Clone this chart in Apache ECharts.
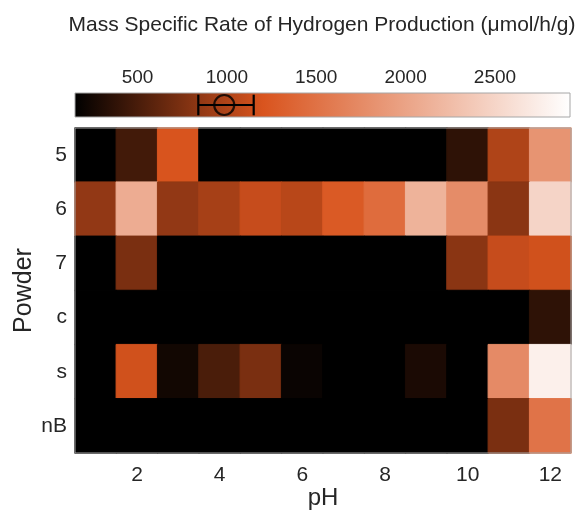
<!DOCTYPE html>
<html>
<head>
<meta charset="utf-8">
<script src="https://cdn.jsdelivr.net/npm/echarts@6/dist/echarts.min.js"></script>
<style>
  html, body { margin: 0; padding: 0; background: #ffffff; }
  #chart { width: 582px; height: 513px; }
</style>
</head>
<body>
<div id="chart"></div>
<script>
// pH values along the x axis and powder samples down the y axis
const phValues = [1, 2, 3, 4, 5, 6, 7, 8, 9, 10, 11, 12];
const powders = ['5', '6', '7', 'c', 's', 'nB'];

// Mass specific H2 rate (µmol/h/g), one row per powder, one value per pH
const rate5  = [0, 470, 1200, 0, 0, 0, 0, 0, 0, 370, 1000, 1850];
const rate6  = [860, 2090, 860, 955, 1110, 1040, 1260, 1440, 2150, 1765, 820, 2490];
const rate7  = [0, 740, 0, 0, 0, 0, 0, 0, 0, 820, 1110, 1160];
const rateC  = [0, 0, 0, 0, 0, 0, 0, 0, 0, 0, 0, 370];
const rateS  = [0, 1160, 240, 510, 740, 200, 0, 0, 280, 0, 1750, 2770];
const rateNB = [0, 0, 0, 0, 0, 0, 0, 0, 0, 0, 740, 1520];
const rateRows = [rate5, rate6, rate7, rateC, rateS, rateNB];

// Colour scale limits and tick labels
const colorMin = 150;
const colorMax = 2920;
const colorTicks = [500, 1000, 1500, 2000, 2500];

// Reference point marked on the colour bar: mean with its spread
const refMean = 985;
const refLow = 840;
const refHigh = 1150;

// Black -> orange -> white colour map
const mapStops = [
  [0.00, [0, 0, 0]],
  [0.38, [217, 84, 30]],
  [1.00, [255, 255, 255]]
];

function mapColor(t) {
  t = Math.max(0, Math.min(1, t));
  for (let i = 1; i < mapStops.length; i++) {
    const [p1, c1] = mapStops[i];
    const [p0, c0] = mapStops[i - 1];
    if (t <= p1) {
      const f = (t - p0) / (p1 - p0);
      const c = c0.map((v, k) => Math.round(v + (c1[k] - v) * f));
      return 'rgb(' + c.join(',') + ')';
    }
  }
  const c = mapStops[mapStops.length - 1][1];
  return 'rgb(' + c.join(',') + ')';
}

function valueColor(v) {
  return mapColor((v - colorMin) / (colorMax - colorMin));
}

// Evenly spaced palette for the visualMap
const palette = [];
for (let i = 0; i <= 100; i++) palette.push(mapColor(i / 100));

// Each cell gets an outline in its own colour so neighbouring cells join without seams
const heatData = [];
rateRows.forEach((row, r) => {
  row.forEach((v, c) => heatData.push({
    value: [c, r, v],
    itemStyle: { borderColor: valueColor(v), borderWidth: 1 }
  }));
});

const font = 'Liberation Sans, Arial, Helvetica, sans-serif';
const textColor = '#262626';

const chart = echarts.init(document.getElementById('chart'), null, { renderer: 'canvas' });

chart.setOption({
  backgroundColor: '#ffffff',
  animation: false,
  title: {
    text: 'Mass Specific Rate of Hydrogen Production (\u03bcmol/h/g)',
    left: 317,
    top: 10,
    textAlign: 'center',
    textStyle: { fontFamily: font, fontSize: 21, fontWeight: 'normal', color: textColor }
  },
  grid: [
    { left: 75, top: 128, width: 496, height: 325, show: true, z: 5,
      outerBoundsMode: 'none',
      borderColor: '#a6a6a6', borderWidth: 1, backgroundColor: 'transparent' },
    { left: 75, top: 93, width: 495, height: 24, outerBoundsMode: 'none' }
  ],
  xAxis: [
    {
      gridIndex: 0,
      type: 'category',
      data: phValues,
      name: 'pH',
      nameLocation: 'middle',
      nameGap: 33,
      nameMoveOverlap: false,
      nameTextStyle: { fontFamily: font, fontSize: 24, color: textColor },
      axisLine: { show: false },
      axisTick: { show: false },
      splitLine: { show: false },
      axisLabel: {
        interval: (idx) => idx % 2 === 1,
        margin: 12,
        fontFamily: font, fontSize: 21, color: textColor
      }
    },
    {
      gridIndex: 1,
      type: 'value',
      position: 'top',
      min: colorMin,
      max: colorMax,
      axisLine: { show: false },
      axisTick: { show: false },
      splitLine: { show: false },
      axisLabel: {
        customValues: colorTicks,
        formatter: (v) => String(v),
        margin: 6,
        fontFamily: font, fontSize: 19, color: textColor
      }
    }
  ],
  yAxis: [
    {
      gridIndex: 0,
      type: 'category',
      data: powders,
      inverse: true,
      name: 'Powder',
      nameLocation: 'middle',
      nameRotate: 90,
      nameGap: 38,
      nameMoveOverlap: false,
      nameTextStyle: { fontFamily: font, fontSize: 25, color: textColor },
      axisLine: { show: false },
      axisTick: { show: false },
      splitLine: { show: false },
      axisLabel: { margin: 8, fontFamily: font, fontSize: 21, color: textColor }
    },
    {
      gridIndex: 1,
      type: 'value',
      min: 0,
      max: 1,
      show: false
    }
  ],
  visualMap: {
    type: 'continuous',
    show: false,
    seriesIndex: 0,
    dimension: 2,
    min: colorMin,
    max: colorMax,
    inRange: { color: palette },
    outOfRange: { color: '#000000' }
  },
  series: [
    {
      type: 'heatmap',
      xAxisIndex: 0,
      yAxisIndex: 0,
      data: heatData,
      progressive: 0,
      emphasis: { disabled: true }
    },
    {
      // colour bar body
      type: 'custom',
      xAxisIndex: 1,
      yAxisIndex: 1,
      silent: true,
      data: [[colorMin, colorMax]],
      renderItem: function (params, api) {
        const p0 = api.coord([api.value(0), 1]);
        const p1 = api.coord([api.value(1), 0]);
        return {
          type: 'rect',
          shape: { x: p0[0], y: p0[1], width: p1[0] - p0[0], height: p1[1] - p0[1] },
          style: {
            fill: new echarts.graphic.LinearGradient(0, 0, 1, 0,
              mapStops.map(s => ({ offset: s[0], color: 'rgb(' + s[1].join(',') + ')' }))),
            stroke: '#a6a6a6',
            lineWidth: 1
          }
        };
      }
    },
    {
      // error bar on the colour bar
      type: 'custom',
      xAxisIndex: 1,
      yAxisIndex: 1,
      silent: true,
      z: 5,
      data: [[refLow, refHigh]],
      renderItem: function (params, api) {
        const a = api.coord([api.value(0), 0.5]);
        const b = api.coord([api.value(1), 0.5]);
        const top = api.coord([api.value(0), 0.93])[1];
        const bot = api.coord([api.value(0), 0.07])[1];
        const st = { stroke: '#000000', lineWidth: 2.2, fill: null };
        return {
          type: 'group',
          children: [
            { type: 'line', shape: { x1: a[0], y1: a[1], x2: b[0], y2: b[1] }, style: st },
            { type: 'line', shape: { x1: a[0], y1: top, x2: a[0], y2: bot }, style: st },
            { type: 'line', shape: { x1: b[0], y1: top, x2: b[0], y2: bot }, style: st }
          ]
        };
      }
    },
    {
      // mean marker on the colour bar
      type: 'scatter',
      xAxisIndex: 1,
      yAxisIndex: 1,
      silent: true,
      z: 6,
      symbol: 'circle',
      symbolSize: 20,
      data: [[refMean, 0.5]],
      itemStyle: { color: 'rgba(0,0,0,0)', borderColor: '#000000', borderWidth: 2.2 }
    }
  ]
});
</script>
</body>
</html>
